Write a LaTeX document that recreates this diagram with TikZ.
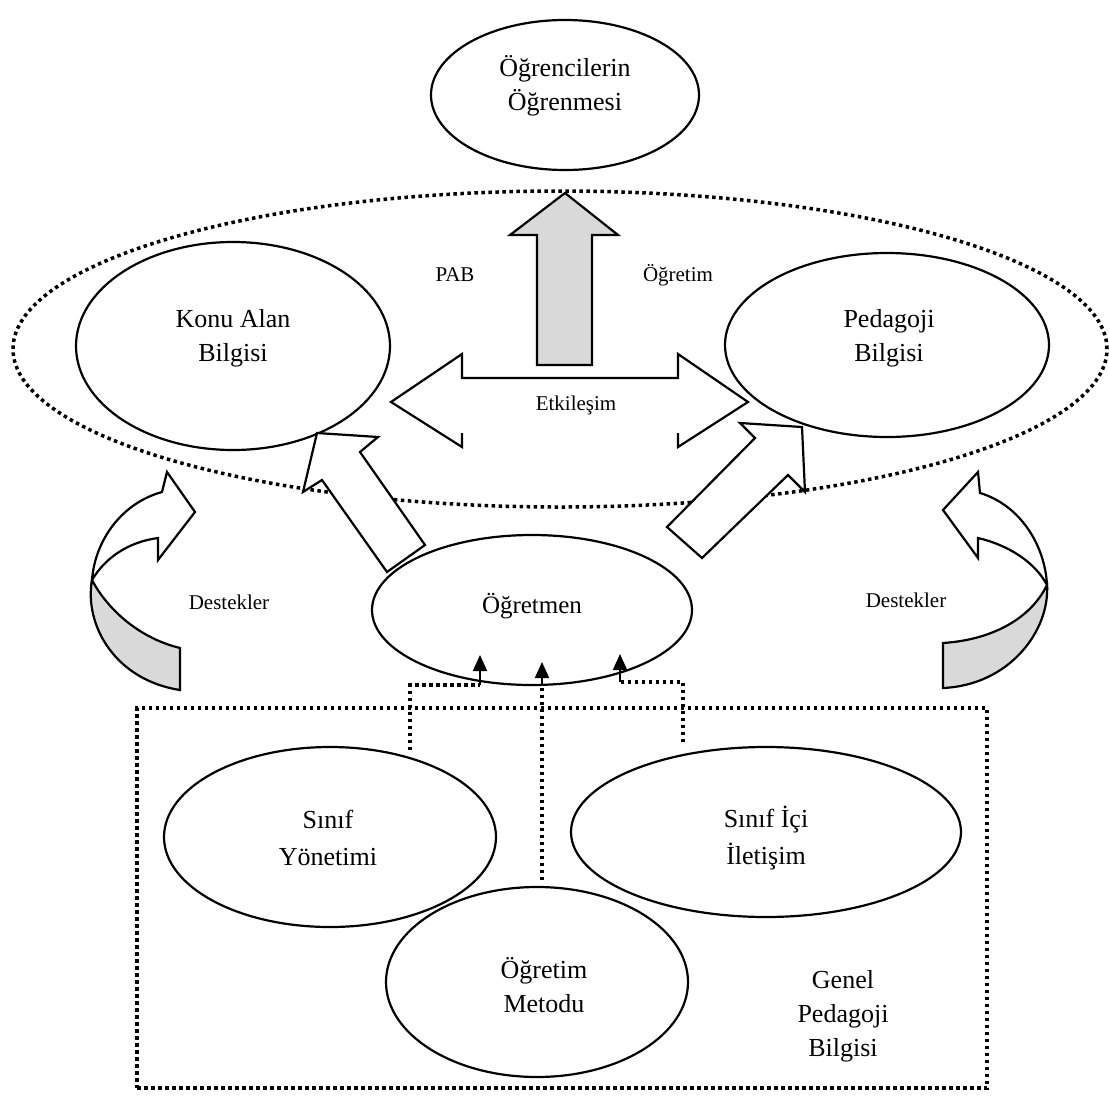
\documentclass[tikz,border=0pt]{standalone}
\usepackage{fontspec}
\setmainfont{Liberation Serif}
\usetikzlibrary{shapes.geometric,arrows.meta}

\begin{document}
\begin{tikzpicture}[x=1pt,y=-1pt,
  oval/.style={draw, ellipse, line width=2.2pt, inner sep=0pt},
  dotline/.style={line width=3.5pt, dash pattern=on 3.5pt off 3.5pt},
  lbl/.style={font=\fontsize{26}{34}\selectfont, align=center, inner sep=0pt},
  small/.style={font=\fontsize{21}{25}\selectfont, inner sep=0pt},
  blockarrow/.style={draw, line width=2.2pt, fill=white, line join=miter},
  shade/.style={fill={rgb,255:red,217;green,217;blue,217}},
  pointer/.style={line width=2pt, -{Triangle[width=14pt,length=16pt]}}
]
\useasboundingbox[fill=white] (0,0) rectangle (1109,1098);

% outer dotted PAB region
\node[ellipse, draw, dotline, minimum width=1094pt, minimum height=316pt, inner sep=0pt] (pab) at (560,349) {};

% student learning
\node[oval, minimum width=268pt, minimum height=150pt] (ogr) at (565,95) {};
\node[lbl] (ogrt) at (565,86) {Öğrencilerin\\Öğrenmesi};

% content and pedagogy knowledge
\node[oval, minimum width=314pt, minimum height=208pt] (kab) at (233,346) {};
\node[lbl] (kabt) at (233,338) {Konu Alan\\Bilgisi};
\node[oval, minimum width=324pt, minimum height=184pt] (pb) at (887,345) {};
\node[lbl] (pbt) at (889,338) {Pedagoji\\Bilgisi};

% grey upward arrow towards student learning
\draw[blockarrow, shade] (565,193) -- (618,235) -- (592,235) -- (592,365)
  -- (537,365) -- (537,235) -- (510,235) -- cycle;

% interaction arrow between the two knowledge areas
\draw[line width=2.2pt, line join=miter] (462,433) -- (462,447) -- (391,402) -- (462,354)
  -- (462,378) -- (678,378) -- (678,354) -- (748,402) -- (678,447) -- (678,433);

% block arrows from the teacher
\draw[blockarrow] (317,433) -- (378,437) -- (360,452) -- (425,545) -- (387,572)
  -- (322,480) -- (303,492) -- cycle;
\draw[blockarrow] (802,427) -- (740,423) -- (755,438) -- (667,527) -- (702,558)
  -- (788,475) -- (805,492) -- cycle;

% teacher
\node[oval, fill=white, minimum width=320pt, minimum height=150pt] (ogt) at (532,610) {};
\node[lbl, font=\fontsize{25}{30}\selectfont] (ogtt) at (532,606) {Öğretmen};

% left curved "supports" arrow
\draw[blockarrow, shade] (92,580) .. controls (84,625) and (115,680) .. (180,690)
  -- (180,648) .. controls (135,637) and (105,605) .. cycle;
\draw[blockarrow] (92,580) .. controls (95,540) and (122,503) .. (162,492)
  -- (167,472) -- (195,512) -- (158,560) -- (158,538)
  .. controls (128,542) and (105,558) .. cycle;

% right curved "supports" arrow
\draw[blockarrow, shade] (1047,585) .. controls (1050,630) and (1010,685) .. (943,688)
  -- (943,643) .. controls (990,640) and (1030,620) .. cycle;
\draw[blockarrow] (1047,585) .. controls (1045,545) and (1020,505) .. (980,493)
  -- (978,472) -- (943,510) -- (978,558) -- (978,538)
  .. controls (1008,545) and (1035,562) .. cycle;

% labels in the PAB region
\node[small] (pabl) at (455,275) {PAB};
\node[small] (ogrl) at (678,275) {Öğretim};
\node[small] (etk) at (576,405) {Etkileşim};
\node[small] (desl) at (229,602) {Destekler};
\node[small] (desr) at (906,600) {Destekler};

% general pedagogical knowledge box
\node[draw, dotline, minimum width=850pt, minimum height=380pt, inner sep=0pt] (gpb) at (562,898) {};
\node[oval, minimum width=332pt, minimum height=180pt] (sy) at (330,837) {};
\node[lbl, font=\fontsize{26}{37}\selectfont] (syt) at (328,838) {Sınıf\\Yönetimi};
\node[oval, minimum width=390pt, minimum height=170pt] (sii) at (766,832) {};
\node[lbl, font=\fontsize{26}{37}\selectfont] (siit) at (766,838) {Sınıf İçi\\İletişim};
\node[oval, minimum width=302pt, minimum height=190pt] (om) at (537,982) {};
\node[lbl] (omt) at (544,985) {Öğretim\\Metodu};
\node[lbl] (gpbt) at (843,1016) {Genel\\Pedagoji\\Bilgisi};

% dotted links into the teacher
\coordinate (syTop) at (410,750);
\coordinate (syBend) at (410,685);
\coordinate (syUp) at (480,685);
\coordinate (syTip) at (480,655);
\coordinate (omTop) at (542,880);
\coordinate (omUp) at (542,686);
\coordinate (omTip) at (542,662);
\coordinate (siiTop) at (683,742);
\coordinate (siiBend) at (683,682);
\coordinate (siiUp) at (620,682);
\coordinate (siiTip) at (620,654);

\draw[dotline] (syTop) -- (syBend) -- (syUp);
\draw[pointer] (syUp) -- (syTip);
\draw[dotline] (omTop) -- (omUp);
\draw[pointer] (omUp) -- (omTip);
\draw[dotline] (siiTop) -- (siiBend) -- (siiUp);
\draw[pointer] (siiUp) -- (siiTip);
\end{tikzpicture}
\end{document}
